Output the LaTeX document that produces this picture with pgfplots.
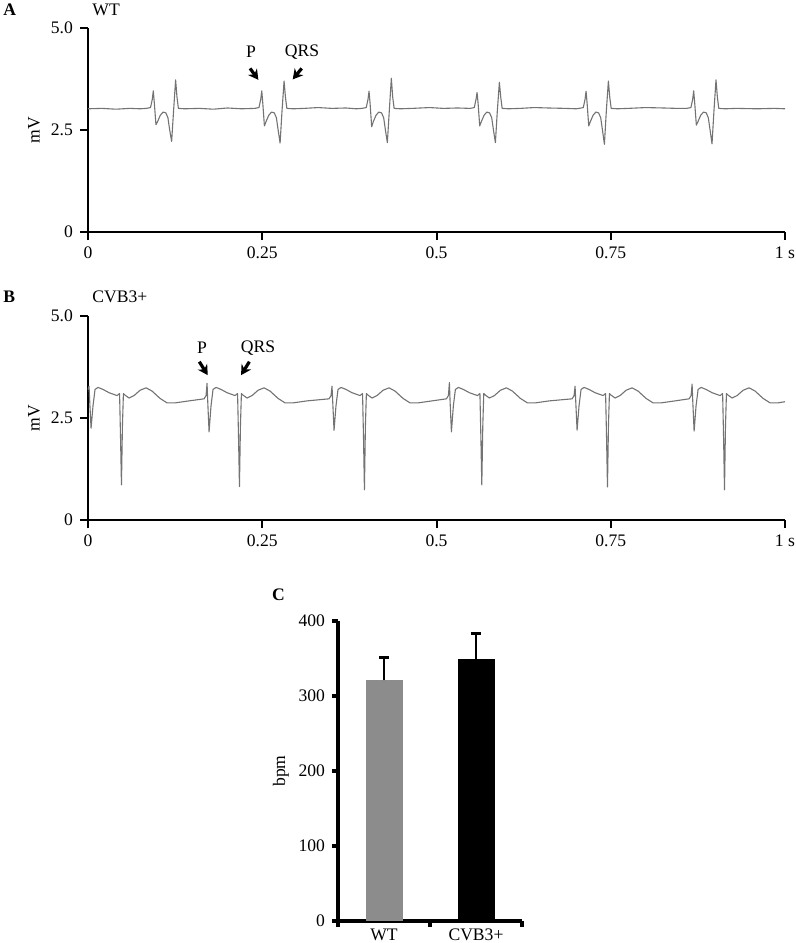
\documentclass[border=0pt]{standalone}
\usepackage{fontspec}
\setmainfont{Liberation Serif}
\usepackage{pgfplots}
\pgfplotsset{compat=1.18}
\usetikzlibrary{arrows.meta}

\pgfplotsset{
  ecg/.style={
    scale only axis, width=348.5pt, height=102pt,
    xmin=0, xmax=1000, ymin=0, ymax=5,
    axis x line=bottom, axis y line=left,
    axis line style={-, line width=1pt, black},
    xtick={0,250,500,750,1000}, xticklabels={0,0.25,0.5,0.75,1 s},
    ytick={0,2.5,5}, yticklabels={0,2.5,5.0},
    tick align=outside, major tick length=4pt,
    tick style={line width=1pt, black},
    ylabel={mV},
    ylabel style={at={(axis description cs:-0.0775,0.5)}, anchor=center},
    /pgf/number format/assume math mode=true,
    clip=false,
  },
}
\tikzset{
  trace/.style={black!55, line width=0.55pt, line join=round},
  pointer/.style={-{Stealth[length=5pt,width=5.5pt]}, line width=1.6pt, black},
}

\begin{document}
\begin{tikzpicture}[font=\fontsize{8.8}{10.5}\selectfont]
\path[use as bounding box] (0pt,0pt) rectangle (398pt,-471.5pt);

% ---------------- Panel A ----------------
\node[anchor=west, inner sep=0pt, font=\fontsize{8.8}{10.5}\selectfont\bfseries] at (1.5pt,-5pt) {A};
\node[anchor=west, inner sep=0pt] at (46pt,-5pt) {WT};
\begin{axis}[ecg, at={(44pt,-116pt)}, anchor=south west]
\addplot[trace] coordinates {
(0,3.02) (20,3.03) (40,3.01) (60,3.03) (75,3.02)
(83.7,3.03) (89.7,3.05) (92.2,3.25) (93.7,3.46) (95.2,3.15) (97.5,2.63) (99.7,2.70) (103.7,2.86) (107.7,2.94) (111.7,2.92) (114.7,2.80) (117.2,2.50) (120.0,2.22) (122.7,2.95) (125.7,3.73) (127.7,3.30) (129.7,3.03) (138.7,3.02)
(160,3.03) (180,3.01) (200,3.04) (220,3.02)
(239.3,3.03) (245.3,3.05) (247.8,3.25) (249.3,3.46) (250.8,3.15) (253.1,2.60) (255.3,2.70) (259.3,2.86) (263.3,2.94) (267.3,2.92) (270.3,2.80) (272.8,2.50) (275.6,2.18) (278.3,2.95) (281.3,3.70) (283.3,3.30) (285.3,3.03) (294.3,3.02)
(310,3.03) (330,3.05) (350,3.03) (370,3.04) (385,3.02)
(393.2,3.03) (399.2,3.05) (401.7,3.25) (403.2,3.45) (404.7,3.15) (407.0,2.58) (409.2,2.70) (413.2,2.86) (417.2,2.94) (421.2,2.92) (424.2,2.80) (426.7,2.50) (429.5,2.19) (432.2,2.95) (435.2,3.77) (437.2,3.30) (439.2,3.03) (448.2,3.02)
(465,3.03) (490,3.05) (510,3.03) (530,3.04)
(548.2,3.03) (554.2,3.05) (556.7,3.25) (558.2,3.42) (559.7,3.15) (562.0,2.60) (564.2,2.70) (568.2,2.86) (572.2,2.94) (576.2,2.92) (579.2,2.80) (581.7,2.50) (584.5,2.19) (587.2,2.95) (590.2,3.67) (592.2,3.30) (594.2,3.03) (603.2,3.02)
(620,3.03) (640,3.05) (660,3.04) (685,3.03) (700,3.02)
(704.6,3.03) (710.6,3.05) (713.1,3.25) (714.6,3.45) (716.1,3.15) (718.4,2.60) (720.6,2.70) (724.6,2.86) (728.6,2.94) (732.6,2.92) (735.6,2.80) (738.1,2.50) (740.9,2.15) (743.6,2.95) (746.6,3.70) (748.6,3.30) (750.6,3.03) (759.6,3.02)
(775,3.03) (800,3.05) (825,3.04) (845,3.03)
(859,3.03) (865,3.05) (867.5,3.25) (869,3.46) (870.5,3.15) (872.8,2.62) (875,2.70) (879,2.86) (883,2.94) (887,2.92) (890,2.80) (892.5,2.50) (895.3,2.16) (898,2.95) (901,3.73) (903,3.30) (905,3.03) (914,3.02)
(930,3.03) (960,3.02) (985,3.03) (1000,3.02)
};
\node at (axis cs:233.9,4.41) {P};
\node at (axis cs:307,4.41) {QRS};
\draw[pointer] (axis cs:232.5,4.01) -- (axis cs:244.4,3.73);
\draw[pointer] (axis cs:306.6,4.01) -- (axis cs:293.7,3.74);
\end{axis}

% ---------------- Panel B ----------------
\node[anchor=west, inner sep=0pt, font=\fontsize{8.8}{10.5}\selectfont\bfseries] at (1.5pt,-148.5pt) {B};
\node[anchor=west, inner sep=0pt] at (46pt,-148.5pt) {CVB3+};
\begin{axis}[ecg, at={(44pt,-260pt)}, anchor=south west]
\addplot[trace] coordinates {
(0,3.20) (1.5,3.28) (2.5,2.9) (4.4,2.25) (7.2,2.8) (10.1,3.2) (14.4,3.25) (21.6,3.2) (30.2,3.12) (41.7,3.05) (45.3,3.10) (46.7,2.0) (48.0,0.86) (49.4,2.3) (50.8,3.10) (53.2,3.06) (58.9,2.99) (66.1,3.05) (74.7,3.18) (83.3,3.24) (91.9,3.16) (103.4,2.98) (113.5,2.87) (124.5,2.87) (145.0,2.92)
(166.5,2.97) (169.4,3.05) (170.8,3.35) (171.8,2.9) (173.7,2.16) (176.5,2.8) (179.4,3.2) (183.7,3.25) (190.9,3.2) (199.5,3.12) (211.0,3.05) (214.6,3.10) (216.0,2.0) (217.3,0.82) (218.7,2.3) (220.1,3.10) (222.5,3.06) (228.2,2.99) (235.4,3.05) (244.0,3.18) (252.6,3.24) (261.2,3.16) (272.7,2.98) (282.8,2.87) (293.8,2.87) (314.3,2.92)
(345.8,2.97) (348.7,3.05) (350.1,3.28) (351.1,2.9) (353.0,2.20) (355.8,2.8) (358.7,3.2) (363.0,3.25) (370.2,3.2) (378.8,3.12) (390.3,3.05) (393.9,3.10) (395.3,2.0) (396.6,0.74) (398.0,2.3) (399.4,3.10) (401.8,3.06) (407.5,2.99) (414.7,3.05) (423.3,3.18) (431.9,3.24) (440.5,3.16) (452.0,2.98) (462.1,2.87) (473.1,2.87) (493.6,2.92)
(514.2,2.97) (517.1,3.05) (518.5,3.37) (519.5,2.9) (521.4,2.16) (524.2,2.8) (527.1,3.2) (531.4,3.25) (538.6,3.2) (547.2,3.12) (558.7,3.05) (562.3,3.10) (563.7,2.0) (565.0,0.86) (566.4,2.3) (567.8,3.10) (570.2,3.06) (575.9,2.99) (583.1,3.05) (591.7,3.18) (600.3,3.24) (608.9,3.16) (620.4,2.98) (630.5,2.87) (641.5,2.87) (662.0,2.92)
(694.5,2.97) (697.4,3.05) (698.8,3.28) (699.8,2.9) (701.7,2.20) (704.5,2.8) (707.4,3.2) (711.7,3.25) (718.9,3.2) (727.5,3.12) (739.0,3.05) (742.6,3.10) (744.0,2.0) (745.3,0.81) (746.7,2.3) (748.1,3.10) (750.5,3.06) (756.2,2.99) (763.4,3.05) (772.0,3.18) (780.6,3.24) (789.2,3.16) (800.7,2.98) (810.8,2.87) (821.8,2.87) (842.3,2.92)
(862.4,2.97) (865.3,3.05) (866.7,3.33) (867.7,2.9) (869.6,2.18) (872.4,2.8) (875.3,3.2) (879.6,3.25) (886.8,3.2) (895.4,3.12) (906.9,3.05) (910.5,3.10) (911.9,2.0) (913.2,0.74) (914.6,2.3) (916.0,3.10) (918.4,3.06) (924.1,2.99) (931.3,3.05) (939.9,3.18) (948.5,3.24) (957.1,3.16) (968.6,2.98) (978.7,2.87) (989.7,2.87) (1000,2.90)
};
\node at (axis cs:163.6,4.22) {P};
\node at (axis cs:244,4.22) {QRS};
\draw[pointer] (axis cs:159.7,3.88) -- (axis cs:171.8,3.55);
\draw[pointer] (axis cs:231.5,3.88) -- (axis cs:219.6,3.55);
\end{axis}

% ---------------- Panel C ----------------
\node[inner sep=0pt, font=\fontsize{8.8}{10.5}\selectfont\bfseries] at (139.3pt,-297.5pt) {C};
\begin{axis}[
  at={(169pt,-460.5pt)}, anchor=south west,
  scale only axis, width=92pt, height=150pt,
  xmin=0, xmax=2, ymin=0, ymax=400,
  axis x line=bottom, axis y line=left,
  axis line style={-, line width=2pt, black},
  ytick={0,100,200,300,400},
  xtick={0.5,1.5}, xticklabels={WT,CVB3+},
  xticklabel style={yshift=2.5pt},
  major x tick style={draw=none},
  minor xtick={0,1,2},
  tick align=outside, major tick length=3pt, minor tick length=3pt,
  tick style={line width=2pt, black},
  ylabel={bpm},
  ylabel style={at={(axis description cs:-0.31,0.5)}, anchor=center},
  /pgf/number format/assume math mode=true,
  clip=false,
]
\addplot[ybar, bar width=18.5pt, fill=black!45, draw=none,
  error bars/.cd, y dir=plus, y explicit,
  error bar style={line width=1.3pt, black},
  error mark options={rotate=90, line width=1.5pt, black, mark size=2.5pt}]
  coordinates {(0.5,321) +- (0,30)};
\addplot[ybar, bar width=18.5pt, fill=black, draw=none,
  error bars/.cd, y dir=plus, y explicit,
  error bar style={line width=1.3pt, black},
  error mark options={rotate=90, line width=1.5pt, black, mark size=2.5pt}]
  coordinates {(1.5,349) +- (0,34)};
\end{axis}
\end{tikzpicture}
\end{document}
